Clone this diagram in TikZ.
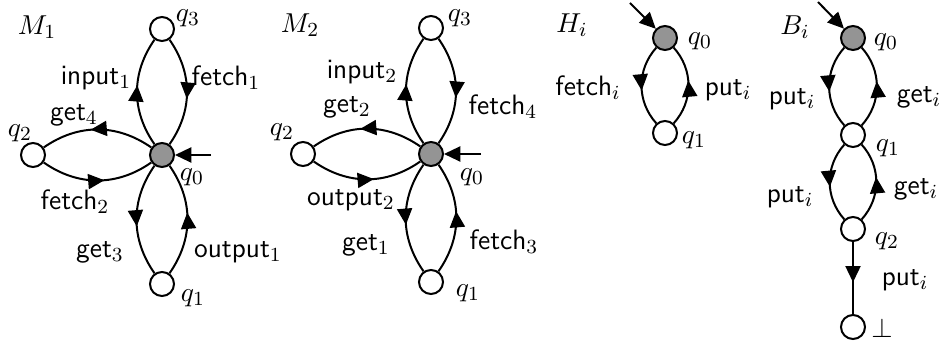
\documentclass[tikz,border=0pt]{standalone}
\usetikzlibrary{arrows.meta,decorations.markings}
\newcommand{\actn}[2]{\textsf{#1}$_{#2}$}
\begin{document}
\begin{tikzpicture}[x=0.4pt, y=0.4pt, font=\fontsize{11.2}{13}\selectfont, line width=0.8pt,
  state/.style={circle, draw, fill=white, minimum size=9.6pt, inner sep=0pt},
  start/.style={state, fill=black!42},
  trans/.style={postaction={decorate}, decoration={markings,
      mark=at position 0.56 with {\arrow{Triangle[length=6.5pt,width=6pt]}}}},
  init/.style={-{Triangle[length=6.5pt,width=6pt]}}]
  \useasboundingbox (0,0) rectangle (946,344);

  % M_1
  \node[start] (m1q0) at (162,189) {};
  \node[state] (m1q1) at (162,60) {};
  \node[state] (m1q2) at (33,189) {};
  \node[state] (m1q3) at (162,315) {};
  \node (m1name) at (37,317) {$M_1$};
  \node (m1l0) at (192,167) {$q_0$};
  \node (m1l1) at (193,46) {$q_1$};
  \node (m1l2) at (20,211) {$q_2$};
  \node (m1l3) at (188,326) {$q_3$};
  \draw[trans] (m1q0) to[bend left=35] (m1q3);
  \draw[trans] (m1q3) to[bend left=35] (m1q0);
  \draw[trans] (m1q0) to[bend right=35] (m1q2);
  \draw[trans] (m1q2) to[bend right=35] (m1q0);
  \draw[trans] (m1q0) to[bend right=35] (m1q1);
  \draw[trans] (m1q1) to[bend right=35] (m1q0);
  \coordinate (m1in) at (211,189);
  \draw[init] (m1in) -- (m1q0);
  \node (m1e1) at (96,266) {\actn{input}{1}};
  \node (m1e2) at (226,266) {\actn{fetch}{1}};
  \node (m1e3) at (74,229) {\actn{get}{4}};
  \node (m1e4) at (75,142) {\actn{fetch}{2}};
  \node (m1e5) at (100,92) {\actn{get}{3}};
  \node (m1e6) at (238,92) {\actn{output}{1}};

  % M_2
  \node[start] (m2q0) at (431,190) {};
  \node[state] (m2q1) at (431,62) {};
  \node[state] (m2q2) at (303,190) {};
  \node[state] (m2q3) at (431,316) {};
  \node (m2name) at (300,319) {$M_2$};
  \node (m2l0) at (472,167) {$q_0$};
  \node (m2l1) at (468,51) {$q_1$};
  \node (m2l2) at (282,212) {$q_2$};
  \node (m2l3) at (460,326) {$q_3$};
  \draw[trans] (m2q0) to[bend left=35] (m2q3);
  \draw[trans] (m2q3) to[bend left=35] (m2q0);
  \draw[trans] (m2q0) to[bend right=35] (m2q2);
  \draw[trans] (m2q2) to[bend right=35] (m2q0);
  \draw[trans] (m2q0) to[bend right=35] (m2q1);
  \draw[trans] (m2q1) to[bend right=35] (m2q0);
  \coordinate (m2in) at (481,190);
  \draw[init] (m2in) -- (m2q0);
  \node (m2e1) at (362,272) {\actn{input}{2}};
  \node (m2e2) at (503,237) {\actn{fetch}{4}};
  \node (m2e3) at (347,237) {\actn{get}{2}};
  \node (m2e4) at (351,144) {\actn{output}{2}};
  \node (m2e5) at (366,99) {\actn{get}{1}};
  \node (m2e6) at (504,102) {\actn{fetch}{3}};

  % H_i
  \node[start] (hq0) at (665,306) {};
  \node[state] (hq1) at (665,211) {};
  \node (hname) at (572,319) {$H_i$};
  \node (hl0) at (700,303) {$q_0$};
  \node (hl1) at (694,204) {$q_1$};
  \draw[trans] (hq0) to[bend right=42] (hq1);
  \draw[trans] (hq1) to[bend right=42] (hq0);
  \coordinate (hin) at (630,341);
  \draw[init] (hin) -- (hq0);
  \node (he1) at (588,256) {\actn{fetch}{i}};
  \node (he2) at (728,254) {\actn{put}{i}};

  % B_i
  \node[start] (bq0) at (853,306) {};
  \node[state] (bq1) at (853,209) {};
  \node[state] (bq2) at (853,115) {};
  \node[state] (bbot) at (853,17) {};
  \node (bname) at (795,317) {$B_i$};
  \node (bl0) at (886,302) {$q_0$};
  \node (bl1) at (888,196) {$q_1$};
  \node (bl2) at (887,103) {$q_2$};
  \node (blb) at (882,16) {$\bot$};
  \draw[trans] (bq0) to[bend right=42] (bq1);
  \draw[trans] (bq1) to[bend right=42] (bq0);
  \draw[trans] (bq1) to[bend right=42] (bq2);
  \draw[trans] (bq2) to[bend right=42] (bq1);
  \draw[trans] (bq2) -- (bbot);
  \coordinate (bin) at (818,342);
  \draw[init] (bin) -- (bq0);
  \node (be1) at (792,245) {\actn{put}{i}};
  \node (be2) at (919,247) {\actn{get}{i}};
  \node (be3) at (790,147) {\actn{put}{i}};
  \node (be4) at (916,155) {\actn{get}{i}};
  \node (be5) at (905,64) {\actn{put}{i}};
\end{tikzpicture}
\end{document}
